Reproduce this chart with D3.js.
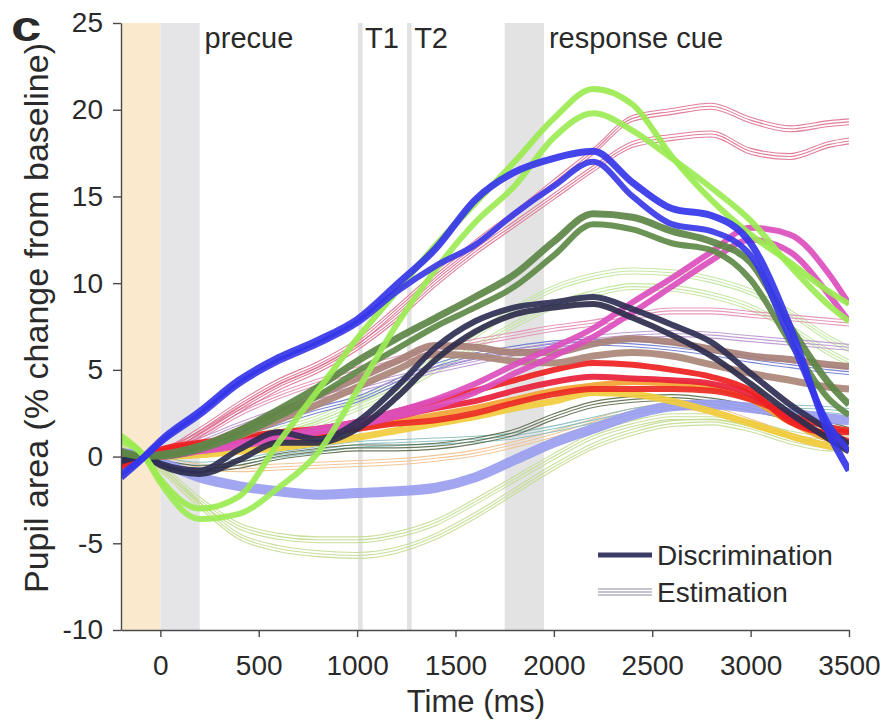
<!DOCTYPE html>
<html>
<head>
<meta charset="utf-8">
<script src="https://cdn.jsdelivr.net/npm/d3@7"></script>
<style>
body { margin: 0; background: #fff; }
text { font-family: "Liberation Sans", Arial, Helvetica, sans-serif; fill: #2a2a2a; }
</style>
</head>
<body>
<div id="chart-area"></div>
<script>
// time points (ms)
var times = [-200, -80, 0, 200, 400, 600, 800, 1000, 1200, 1400, 1600, 1800, 2000, 2200, 2400, 2600, 2800, 3000, 3200, 3400, 3500];

// discrimination series (% change)
var blueD1 = [-1.2, 0, 0.9, 2.6, 4.4, 5.7, 6.7, 7.9, 9.9, 12.0, 14.8, 16.4, 17.2, 17.6, 15.8, 14.3, 13.9, 12.3, 7.5, 1.3, -0.8];
var blueD2 = [-1.0, 0, 0.8, 2.4, 4.2, 5.5, 6.5, 7.7, 9.5, 11.0, 12.2, 14.0, 15.6, 17.0, 15.0, 13.4, 13.0, 11.6, 6.8, 1.8, 0.3];
var greenD1 = [1.2, 0, -1.3, -3.0, -2.3, 0.8, 3.8, 6.8, 9.5, 12.2, 14.6, 17.0, 19.5, 21.2, 20.3, 17.3, 14.8, 12.8, 11.2, 9.5, 8.8];
var greenD2 = [0.9, 0, -1.5, -3.6, -3.3, -1.8, 0.2, 3.8, 7.6, 10.8, 13.5, 15.6, 18.4, 19.8, 18.8, 17.2, 15.5, 13.6, 11.0, 8.7, 7.8];
var dkGreenD1 = [0.3, 0, 0.1, 0.6, 1.5, 2.7, 4.0, 5.5, 6.8, 8.0, 9.2, 10.5, 12.4, 14.0, 13.8, 13.0, 12.4, 11.2, 7.5, 4.2, 3.0];
var dkGreenD2 = [0.2, 0, 0.0, 0.4, 1.2, 2.3, 3.5, 4.9, 6.2, 7.5, 8.6, 9.8, 11.6, 13.4, 13.1, 12.3, 11.9, 10.2, 6.6, 3.3, 2.4];
var navyD1 = [-0.3, 0, -0.4, -0.8, 0.4, 1.4, 1.0, 2.0, 4.0, 6.3, 7.8, 8.6, 8.9, 9.2, 8.5, 7.6, 6.6, 4.8, 3.0, 1.5, 0.7];
var navyD2 = [-0.2, 0, -0.5, -1.0, -0.2, 0.8, 0.8, 1.6, 3.4, 5.6, 7.2, 8.2, 8.6, 8.8, 8.0, 7.0, 5.8, 4.2, 2.5, 1.0, 0.3];
var magentaD1 = [0, 0, 0.1, 0.4, 0.8, 1.2, 1.6, 2.0, 2.6, 3.3, 4.2, 5.3, 6.3, 7.4, 8.9, 10.3, 11.8, 13.2, 12.8, 10.5, 8.8];
var magentaD2 = [0, 0, 0.0, 0.3, 0.6, 1.0, 1.4, 1.8, 2.3, 2.9, 3.7, 4.8, 5.8, 6.9, 8.3, 9.8, 11.3, 12.5, 11.8, 9.3, 7.8];
var brownD1 = [0, 0, 0.1, 0.6, 1.5, 2.5, 3.5, 4.5, 5.5, 6.4, 6.3, 6.0, 6.0, 6.5, 6.8, 6.6, 6.2, 5.8, 5.6, 5.3, 5.2];
var brownD2 = [0, 0, 0.0, 0.4, 1.2, 2.1, 3.0, 4.0, 5.0, 5.9, 5.8, 5.5, 5.4, 5.8, 6.0, 5.8, 5.3, 4.8, 4.4, 4.0, 3.9];
var redD1 = [-0.5, 0, 0.4, 0.8, 1.1, 1.4, 1.6, 2.0, 2.6, 3.2, 3.8, 4.4, 5.0, 5.4, 5.3, 5.0, 4.6, 3.8, 2.0, 1.4, 1.4];
var redD2 = [-0.6, 0, 0.2, 0.6, 0.9, 1.1, 1.3, 1.6, 1.9, 2.1, 2.5, 3.1, 3.6, 3.9, 3.9, 3.9, 3.8, 3.3, 2.4, 1.7, 1.5];
var redD3 = [-0.4, 0, 0.3, 0.7, 1.0, 1.3, 1.5, 1.8, 2.3, 2.8, 3.2, 3.8, 4.3, 4.6, 4.5, 4.4, 4.2, 3.6, 2.2, 1.2, 0.9];
var orangeD = [0, 0, 0.2, 0.4, 0.6, 0.9, 1.2, 1.6, 2.0, 2.4, 2.8, 3.3, 3.8, 4.1, 4.3, 4.2, 4.0, 3.3, 2.0, 1.0, 0.8];
var yellowD = [0, 0, 0.0, 0.1, 0.3, 0.5, 0.8, 1.1, 1.5, 1.9, 2.3, 2.8, 3.2, 3.7, 3.6, 3.2, 2.6, 1.9, 1.2, 0.6, 0.4];
var lilacD = [0.2, 0, -0.3, -1.2, -1.7, -2.0, -2.2, -2.1, -2.0, -1.8, -1.2, -0.2, 0.8, 1.6, 2.4, 2.9, 3.0, 2.8, 2.5, 2.2, 2.1];

// estimation series (% change)
var pinkE1 = [-0.3, 0, 0.2, 1.5, 3.0, 4.3, 5.3, 6.6, 8.5, 10.5, 12.3, 14.0, 15.8, 17.6, 19.5, 19.9, 20.2, 19.4, 18.9, 19.2, 19.3];
var pinkE2 = [-0.3, 0, 0.2, 1.3, 2.7, 4.0, 5.0, 6.3, 8.0, 10.0, 11.8, 13.4, 15.0, 16.6, 18.0, 18.4, 18.6, 17.6, 17.3, 18.0, 18.2];
var pinkE3 = [-0.3, 0, 0.3, 1.2, 2.5, 3.5, 4.3, 5.0, 5.6, 6.1, 6.6, 7.0, 7.4, 7.7, 8.1, 8.4, 8.4, 8.2, 8.0, 7.8, 7.7];
var purpleE = [-0.2, 0, 0.2, 0.9, 1.8, 2.6, 3.3, 3.9, 4.5, 5.0, 5.5, 6.0, 6.4, 6.8, 7.0, 7.1, 7.0, 6.8, 6.6, 6.4, 6.3];
var blueE = [-0.2, 0, 0.1, 0.5, 1.3, 2.0, 2.7, 3.3, 4.3, 5.2, 5.8, 6.2, 6.5, 6.6, 6.5, 6.3, 6.0, 5.6, 5.3, 5.0, 4.9];
var tealE = [0.3, 0, -0.2, -0.5, -0.3, 0.1, 0.4, 0.7, 0.8, 0.9, 1.0, 1.2, 1.6, 2.1, 2.6, 2.9, 3.0, 2.9, 2.8, 2.7, 2.6];
var oliveE = [0.2, 0, -0.3, -0.7, -0.5, 0.0, 0.3, 0.5, 0.5, 0.6, 0.9, 1.4, 2.3, 3.0, 3.3, 3.4, 3.2, 2.8, 2.3, 1.8, 1.5];
var peachE = [0, 0, -0.2, -0.6, -0.7, -0.6, -0.5, -0.4, -0.3, -0.1, 0.2, 0.7, 1.3, 2.0, 2.6, 2.9, 2.7, 2.0, 1.2, 0.6, 0.4];
var ltGreenE1 = [0.4, 0, -0.6, -2.5, -4.0, -4.6, -4.8, -4.8, -4.5, -3.8, -2.6, -1.3, 0.0, 1.2, 1.9, 2.3, 2.3, 1.9, 1.3, 1.0, 1.0];
var ltGreenE2 = [0.5, 0, -0.7, -2.8, -4.6, -5.3, -5.6, -5.7, -5.4, -4.6, -3.4, -2.0, -0.6, 0.6, 1.4, 1.9, 2.0, 1.6, 0.9, 0.5, 0.5];
var ltGreenE3 = [0, 0, 0.0, 0.3, 0.8, 1.5, 2.2, 3.2, 4.3, 5.6, 7.0, 8.5, 9.7, 10.4, 10.7, 10.6, 10.2, 9.5, 8.3, 6.8, 6.2];
var ltGreenE4 = [0, 0, 0.0, 0.2, 0.6, 1.2, 1.9, 2.8, 3.8, 5.0, 6.3, 7.6, 8.7, 9.4, 9.8, 9.7, 9.3, 8.6, 7.4, 6.0, 5.4];

var xTicks = [0, 500, 1000, 1500, 2000, 2500, 3000, 3500];
var yTicks = [-10, -5, 0, 5, 10, 15, 20, 25];

var estSeries = [
    { values: ltGreenE1, color: "#c2dc8e" },
    { values: ltGreenE2, color: "#c2dc8e" },
    { values: ltGreenE3, color: "#bfe59a" },
    { values: ltGreenE4, color: "#bfe59a" },
    { values: peachE, color: "#f2c08c" },
    { values: tealE, color: "#86bcbc" },
    { values: oliveE, color: "#5b6a4a" },
    { values: blueE, color: "#6a78d0" },
    { values: purpleE, color: "#b994cf" },
    { values: pinkE3, color: "#e38fb5" },
    { values: pinkE2, color: "#de6f8e" },
    { values: pinkE1, color: "#de6f8e" }
];

var discSeries = [
    { values: lilacD, color: "#9a9ef0", w: 10 },
    { values: yellowD, color: "#f1cc3c", w: 7 },
    { values: orangeD, color: "#f4a232", w: 6 },
    { values: redD2, color: "#ec2a22", w: 6 },
    { values: redD3, color: "#e8203a", w: 6 },
    { values: redD1, color: "#ee2020", w: 6 },
    { values: brownD2, color: "#ab8578", w: 7 },
    { values: brownD1, color: "#a88077", w: 7 },
    { values: magentaD2, color: "#dc4fbe", w: 6 },
    { values: magentaD1, color: "#dc4fbe", w: 6 },
    { values: navyD2, color: "#2c2c4c", w: 6 },
    { values: navyD1, color: "#2f2f55", w: 6 },
    { values: dkGreenD2, color: "#5f8a48", w: 6 },
    { values: dkGreenD1, color: "#5c8645", w: 7 },
    { values: greenD2, color: "#9ceb55", w: 6 },
    { values: greenD1, color: "#9aea50", w: 6 },
    { values: blueD2, color: "#3a3ae8", w: 6 },
    { values: blueD1, color: "#3535ea", w: 7 }
];

var margin = { left: 121, right: 39, top: 23, bottom: 91 };
var width = 888 - margin.left - margin.right,
    height = 721 - margin.top - margin.bottom;

var svg = d3.select("#chart-area").append("svg")
    .attr("width", 888)
    .attr("height", 721);

var g = svg.append("g").attr("transform", "translate(" + margin.left + ", " + margin.top + ")");

var x = d3.scaleLinear().domain([-200, 3500]).range([0, width]);
var y = d3.scaleLinear().domain([-10, 25]).range([height, 0]);

// event shading
g.append("rect").attr("x", x(-200)).attr("y", 0)
    .attr("width", x(0) - x(-200)).attr("height", height).attr("fill", "#fbe9cd");
g.append("rect").attr("x", x(0)).attr("y", 0)
    .attr("width", x(200) - x(0)).attr("height", height).attr("fill", "#e5e5e7");
g.append("rect").attr("x", x(1005)).attr("y", 0)
    .attr("width", x(1028) - x(1005)).attr("height", height).attr("fill", "#e2e2e2");
g.append("rect").attr("x", x(1254)).attr("y", 0)
    .attr("width", x(1277) - x(1254)).attr("height", height).attr("fill", "#e2e2e2");
g.append("rect").attr("x", x(1750)).attr("y", 0)
    .attr("width", x(1950) - x(1750)).attr("height", height).attr("fill", "#e3e3e3");

// event labels
var labels = [["precue", 225], ["T1", 1040], ["T2", 1290], ["response cue", 1975]];
g.selectAll(".evt").data(labels).enter().append("text")
    .attr("class", "evt")
    .attr("x", (d) => { return x(d[1]); })
    .attr("y", 25)
    .attr("font-size", "29px")
    .text((d) => { return d[0]; });

g.append("clipPath").attr("id", "clip")
    .append("rect").attr("width", width).attr("height", height);

var plot = g.append("g").attr("clip-path", "url(#clip)");

function lineFor(offset) {
    return d3.line()
        .x((d, i) => { return x(times[i]); })
        .y((d) => { return y(d + offset); })
        .curve(d3.curveMonotoneX);
}

// estimation: thin triple lines (mean +/- sem)
estSeries.forEach((s) => {
    [-0.17, 0, 0.17].forEach((off) => {
        plot.append("path")
            .datum(s.values)
            .attr("fill", "none")
            .attr("stroke", s.color)
            .attr("stroke-width", 1.1)
            .attr("opacity", 0.9)
            .attr("d", lineFor(off));
    });
});

// discrimination: thick bands
discSeries.forEach((s) => {
    plot.append("path")
        .datum(s.values)
        .attr("fill", "none")
        .attr("stroke", s.color)
        .attr("stroke-width", s.w)
        .attr("stroke-linejoin", "round")
        .attr("opacity", 0.92)
        .attr("d", lineFor(0));
});

// axes
var leftAxis = d3.axisLeft(y).tickValues(yTicks).tickSize(8).tickSizeOuter(0).tickPadding(10)
    .tickFormat((d) => { return String(d); });
var yAxisGroup = g.append("g").attr("class", "y axis").call(leftAxis);

var bottomAxis = d3.axisBottom(x).tickValues(xTicks).tickSize(7).tickSizeOuter(0).tickPadding(18)
    .tickFormat((d) => { return String(d); });
var xAxisGroup = g.append("g").attr("class", "x axis")
    .attr("transform", "translate(0, " + height + ")").call(bottomAxis);

g.selectAll(".axis path, .axis line").attr("stroke", "#4a4a4a").attr("stroke-width", 1.4);
g.selectAll(".axis text").attr("font-size", "28px").attr("fill", "#2a2a2a")
    .attr("font-family", "Liberation Sans, Arial, sans-serif");

// axis labels
svg.append("text")
    .attr("x", 476)
    .attr("y", 712)
    .attr("font-size", "31px")
    .attr("text-anchor", "middle")
    .text("Time (ms)");

svg.append("text")
    .attr("x", -318)
    .attr("y", 48)
    .attr("font-size", "34px")
    .attr("text-anchor", "middle")
    .attr("transform", "rotate(-90)")
    .text("Pupil area (% change from baseline)");

// panel letter
svg.append("text")
    .attr("x", 0)
    .attr("y", 0)
    .attr("transform", "translate(11, 41) scale(1.3, 1)")
    .attr("font-size", "42px")
    .attr("font-weight", "bold")
    .attr("fill", "#111")
    .text("c");

// legend
var legend = svg.append("g");
legend.append("line")
    .attr("x1", 598).attr("x2", 652).attr("y1", 555).attr("y2", 555)
    .attr("stroke", "#3b3b66").attr("stroke-width", 5);
legend.append("text").attr("x", 657).attr("y", 565).attr("font-size", "28px").text("Discrimination");
[-3, 0, 3].forEach((off) => {
    legend.append("line")
        .attr("x1", 598).attr("x2", 652).attr("y1", 592 + off).attr("y2", 592 + off)
        .attr("stroke", "#8a8aa8").attr("stroke-width", 1.2);
});
legend.append("text").attr("x", 657).attr("y", 602).attr("font-size", "28px").text("Estimation");
</script>
</body>
</html>
